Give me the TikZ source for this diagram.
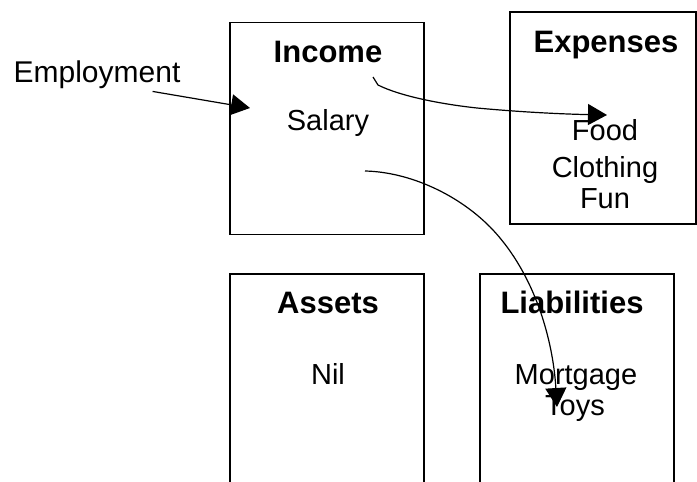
\documentclass[tikz,border=0pt]{standalone}
\usepackage{fontspec}
\setmainfont{Liberation Sans}
\usetikzlibrary{arrows.meta}
\tikzset{
  acct/.style={draw=black, line width=1.5pt, inner sep=0pt},
  head/.style={font=\fontsize{31}{36}\selectfont\bfseries, anchor=base, inner sep=0pt},
  item/.style={font=\fontsize{29}{34}\selectfont, anchor=base, inner sep=0pt},
  flow/.style={line width=1.2pt, -{Triangle[length=19pt,width=21pt]}}
}
\begin{document}
\begin{tikzpicture}[x=1pt,y=-1pt]
            \useasboundingbox (0,0) rectangle (697,482);
            \clip (0,0) rectangle (697,482);
            % account boxes
            \node[acct, minimum width=194pt, minimum height=212pt] (income) at (327,128.5) {};
            \node[acct, minimum width=186pt, minimum height=212pt] (expenses) at (603,118) {};
            \node[acct, minimum width=194pt, minimum height=246pt] (assets) at (327,397) {};
            \node[acct, minimum width=194pt, minimum height=246pt] (liabilities) at (577,397) {};

            % headings
            \node[head] (inchead) at (328,62) {Income};
            \node[head] (exphead) at (606,52) {Expenses};
            \node[head] (asshead) at (328,313) {Assets};
            \node[head] (liahead) at (572,313) {Liabilities};

            % entries
            \node[item, font=\fontsize{30}{34}\selectfont] (emp) at (97,82) {Employment};
            \node[item] (salary) at (328,130) {Salary};
            \foreach \t/\y in {Food/140,Clothing/177,Fun/208}
            \node[item] (exp\t) at (605,\y) {\t};
            \node[item] (nil) at (328,384) {Nil};
            \node[item] (mortgage) at (576,384) {Mortgage};
            \node[item] (toys) at (575,415) {Toys};

            % flows
            \coordinate (empto) at (250,108);
            \coordinate (incfrom) at (373,77);
            \coordinate (expto) at (607,115);
            \coordinate (salfrom) at (365,171);
            \coordinate (liato) at (557,407);
            \draw[flow] ([xshift=-28pt,yshift=-3pt]emp.south east) -- (empto);
            \draw[flow] (incfrom) -- ++(5,8) .. controls (400,96) and (440,104) .. (477,108)
                .. controls (520,112) and (560,114) .. (expto);
            \draw[flow] (salfrom) .. controls (410,172) and (460,195) .. (493,230)
                .. controls (535,275) and (553,340) .. (liato);
        \end{tikzpicture}
\end{document}
